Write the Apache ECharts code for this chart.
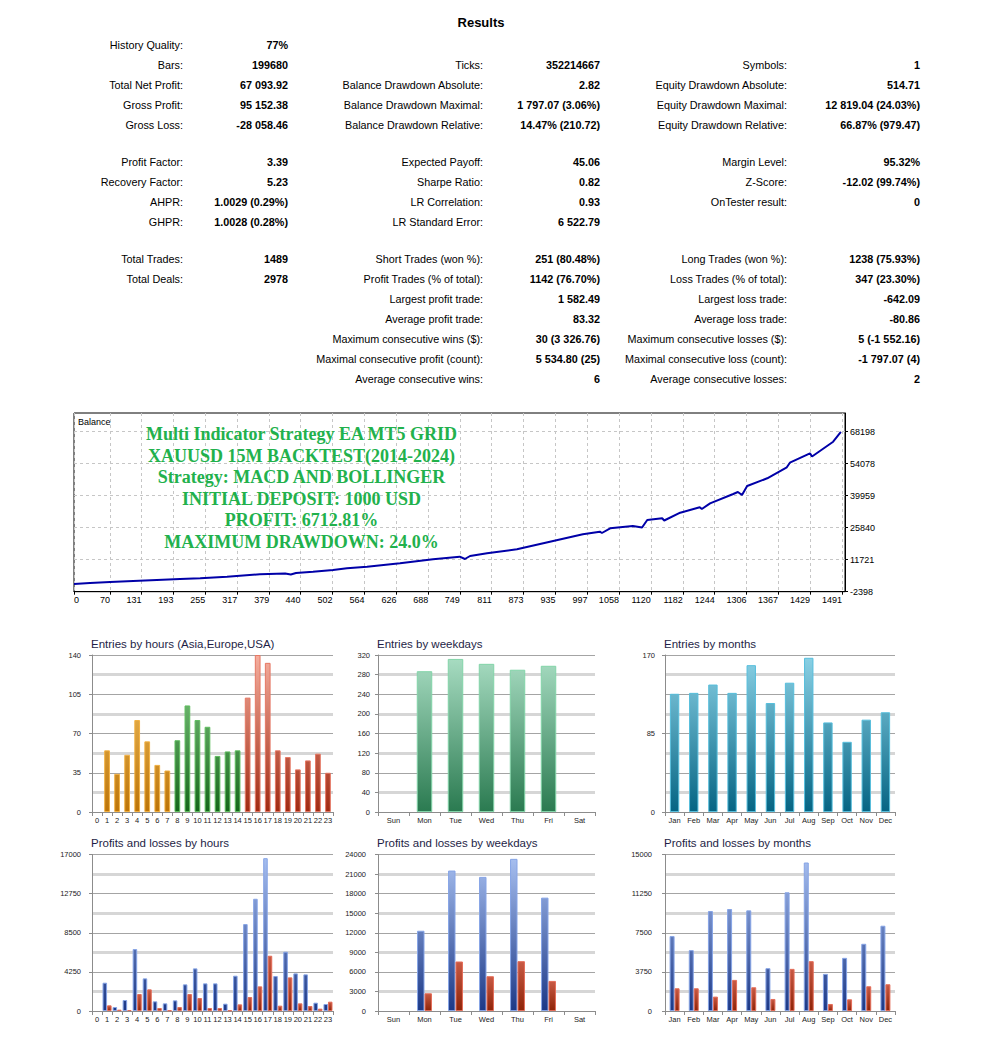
<!DOCTYPE html>
<html><head><meta charset="utf-8">
<script src="https://cdn.jsdelivr.net/npm/echarts@6/dist/echarts.min.js"></script>
<style>html,body{margin:0;padding:0;background:#fff}#c{width:991px;height:1049px}</style>
</head><body><div id="c"></div>
<script>
// ================= DATA =================
const reportTitle = 'Results';
// report table: one entry per row slot ('' = empty slot)
const col1Labels = ['History Quality:', 'Bars:', 'Total Net Profit:', 'Gross Profit:', 'Gross Loss:', 'Profit Factor:', 'Recovery Factor:', 'AHPR:', 'GHPR:', 'Total Trades:', 'Total Deals:', '', '', '', '', ''];
const col1Values = ['77%', '199680', '67 093.92', '95 152.38', '-28 058.46', '3.39', '5.23', '1.0029 (0.29%)', '1.0028 (0.28%)', '1489', '2978', '', '', '', '', ''];
const col2Labels = ['', 'Ticks:', 'Balance Drawdown Absolute:', 'Balance Drawdown Maximal:', 'Balance Drawdown Relative:', 'Expected Payoff:', 'Sharpe Ratio:', 'LR Correlation:', 'LR Standard Error:', 'Short Trades (won %):', 'Profit Trades (% of total):', 'Largest profit trade:', 'Average profit trade:', 'Maximum consecutive wins ($):', 'Maximal consecutive profit (count):', 'Average consecutive wins:'];
const col2Values = ['', '352214667', '2.82', '1 797.07 (3.06%)', '14.47% (210.72)', '45.06', '0.82', '0.93', '6 522.79', '251 (80.48%)', '1142 (76.70%)', '1 582.49', '83.32', '30 (3 326.76)', '5 534.80 (25)', '6'];
const col3Labels = ['', 'Symbols:', 'Equity Drawdown Absolute:', 'Equity Drawdown Maximal:', 'Equity Drawdown Relative:', 'Margin Level:', 'Z-Score:', 'OnTester result:', '', 'Long Trades (won %):', 'Loss Trades (% of total):', 'Largest loss trade:', 'Average loss trade:', 'Maximum consecutive losses ($):', 'Maximal consecutive loss (count):', 'Average consecutive losses:'];
const col3Values = ['', '1', '514.71', '12 819.04 (24.03%)', '66.87% (979.47)', '95.32%', '-12.02 (99.74%)', '0', '', '1238 (75.93%)', '347 (23.30%)', '-642.09', '-80.86', '5 (-1 552.16)', '-1 797.07 (4)', '2'];

// balance curve (trade number, balance)
const balanceTrade = [0, 31, 70, 115, 161, 206, 245, 297, 361, 410, 421, 431, 464, 503, 530, 569, 633, 697, 749, 759, 769, 802, 860, 924, 988, 1021, 1025, 1041, 1085, 1103, 1113, 1142, 1146, 1177, 1215, 1219, 1235, 1280, 1289, 1297, 1307, 1346, 1384, 1390, 1429, 1433, 1474, 1489];
const balanceValue = [1000, 1440, 1882, 2323, 2764, 3205, 3514, 4220, 5279, 5632, 5191, 5852, 6426, 7176, 7926, 8632, 10132, 11897, 13044, 12029, 13353, 14544, 16309, 19662, 22927, 24074, 23500, 25574, 26589, 25927, 29236, 29986, 29015, 32457, 34839, 34089, 36604, 40707, 41590, 40265, 44237, 47634, 52487, 54517, 58664, 57252, 63782, 68094];
const balanceXTicks = [0, 70, 131, 193, 255, 317, 379, 440, 502, 564, 626, 688, 749, 811, 873, 935, 997, 1058, 1120, 1182, 1244, 1306, 1367, 1429, 1491];
const balanceYTicks = [-2398, 11721, 25840, 39959, 54078, 68198];
const overlayLines = ['Multi Indicator Strategy EA MT5 GRID', 'XAUUSD 15M BACKTEST(2014-2024)', 'Strategy: MACD AND BOLLINGER', 'INITIAL DEPOSIT: 1000 USD', 'PROFIT: 6712.81%', 'MAXIMUM DRAWDOWN: 24.0%'];

// distribution charts
const hourCats = ['0','1','2','3','4','5','6','7','8','9','10','11','12','13','14','15','16','17','18','19','20','21','22','23'];
const hourSession = ['Asia','Asia','Asia','Asia','Asia','Asia','Asia','Asia','Europe','Europe','Europe','Europe','Europe','Europe','Europe','USA','USA','USA','USA','USA','USA','USA','USA','USA'];
const hourEntries = [0, 55, 34, 51, 82, 63, 42, 37, 64, 95, 82, 76, 50, 54, 55, 102, 140, 133, 55, 49, 38, 46, 52, 35];
const weekdayCats = ['Sun', 'Mon', 'Tue', 'Wed', 'Thu', 'Fri', 'Sat'];
const weekdayEntries = [0, 287, 312, 302, 290, 298, 0];
const monthCats = ['Jan', 'Feb', 'Mar', 'Apr', 'May', 'Jun', 'Jul', 'Aug', 'Sep', 'Oct', 'Nov', 'Dec'];
const monthEntries = [128, 129, 138, 129, 159, 118, 140, 167, 97, 76, 100, 108];
const hourProfits = [0, 3074, 434, 1194, 6728, 3545, 1049, 832, 1157, 2894, 4630, 3002, 3002, 796, 3834, 9441, 12190, 16602, 3798, 6438, 4087, 3979, 904, 760];
const hourLosses = [0, 615, 145, 108, 1845, 2351, 326, 72, 434, 1845, 1411, 326, 326, 72, 723, 1519, 2677, 6004, 579, 3653, 832, 543, 253, 1013];
const weekdayProfits = [0, 12308, 21538, 20564, 23333, 17385, 0];
const weekdayLosses = [0, 2718, 7590, 5333, 7641, 4615, 0];
const monthProfits = [7179, 5833, 9583, 9775, 9647, 4103, 11378, 14231, 3558, 5096, 6442, 8173];
const monthLosses = [2179, 2179, 1378, 2981, 2276, 1154, 4038, 4776, 673, 1122, 2372, 2564];
const chartTitles = ['Entries by hours (Asia,Europe,USA)', 'Entries by weekdays', 'Entries by months', 'Profits and losses by hours', 'Profits and losses by weekdays', 'Profits and losses by months'];
const axisMax = [140, 320, 170, 17000, 24000, 15000];
const labelStep = [35, 40, 85, 4250, 3000, 3750];

// ================= BUILD =================
const FONT = '"Liberation Sans", Arial, sans-serif';
const chart = echarts.init(document.getElementById('c'), null, {renderer: 'svg', width: 991, height: 1049});
const plain = v => String(v);

function vgrad(top, bottom, c0, c1) {
  return new echarts.graphic.LinearGradient(0, top, 0, bottom, [{offset: 0, color: c0}, {offset: 1, color: c1}], true);
}
function lgrad(c0, c1) {
  return new echarts.graphic.LinearGradient(0, 0, 0, 1, [{offset: 0, color: c0}, {offset: 1, color: c1}]);
}

const graphics = [];
graphics.push({type: 'text', x: 481, y: 22, style: {text: reportTitle, fontSize: 13, fontWeight: 'bold', fontFamily: FONT, fill: '#000', align: 'center', verticalAlign: 'middle'}});
const rowY = [45, 65, 85, 105, 125, 162, 182, 202, 222, 259, 279, 299, 319, 339, 359, 379];
const cols = [
  {labels: col1Labels, values: col1Values, lx: 183, vx: 288},
  {labels: col2Labels, values: col2Values, lx: 483, vx: 600},
  {labels: col3Labels, values: col3Values, lx: 787, vx: 920}
];
cols.forEach(c => {
  c.labels.forEach((lab, i) => {
    if (lab) graphics.push({type: 'text', x: c.lx, y: rowY[i], style: {text: lab, fontSize: 10.8, fontFamily: FONT, fill: '#000', align: 'right', verticalAlign: 'middle'}});
    if (c.values[i]) graphics.push({type: 'text', x: c.vx, y: rowY[i], style: {text: c.values[i], fontSize: 10.8, fontWeight: 'bold', fontFamily: FONT, fill: '#000', align: 'right', verticalAlign: 'middle'}});
  });
});
graphics.push({type: 'text', x: 78, y: 422, z: 10, style: {text: 'Balance', fontSize: 9, fontFamily: FONT, fill: '#000', align: 'left', verticalAlign: 'middle'}});
overlayLines.forEach((t, i) => {
  graphics.push({type: 'text', x: 301.5, y: 434 + 21.6 * i, z: 10, style: {text: t, fontSize: 18, fontWeight: 'bold', fontFamily: '"Liberation Serif", "Times New Roman", serif', fill: '#22B14C', align: 'center', verticalAlign: 'middle'}});
});

const grids = [{left: 74, top: 413, width: 771, height: 178.7, show: true, borderColor: '#000', borderWidth: 1}];
const xAxes = [{
  type: 'value', gridIndex: 0, min: 0, max: 1497,
  axisLine: {show: true, onZero: false, lineStyle: {color: '#000'}},
  axisTick: {show: true, length: 3, customValues: balanceXTicks, lineStyle: {color: '#000'}},
  axisLabel: {customValues: balanceXTicks, formatter: plain, fontSize: 9, fontFamily: FONT, color: '#000', align: 'right', margin: 4, alignMinLabel: 'left'},
  splitLine: {show: true, lineStyle: {color: '#c6c6c6', type: [3, 3]}}
}];
const yAxes = [{
  type: 'value', gridIndex: 0, position: 'right', min: -2398, max: 76450,
  axisLine: {show: true, onZero: false, lineStyle: {color: '#000'}},
  axisTick: {show: true, length: 3, customValues: balanceYTicks, lineStyle: {color: '#000'}},
  axisLabel: {customValues: balanceYTicks, formatter: plain, fontSize: 9, fontFamily: FONT, color: '#000', margin: 5},
  splitLine: {show: true, lineStyle: {color: '#c6c6c6', type: [3, 3]}}
}];
const series = [{
  type: 'line', xAxisIndex: 0, yAxisIndex: 0, symbol: 'none', showSymbol: false,
  data: balanceTrade.map((t, i) => [t, balanceValue[i]]),
  lineStyle: {color: '#0000a8', width: 2}, z: 5
}];

const boxes = [
  {left: 92, top: 655, width: 241, height: 157},
  {left: 378, top: 655, width: 217, height: 157},
  {left: 665, top: 655, width: 230, height: 157},
  {left: 92, top: 854.5, width: 241, height: 156.5},
  {left: 378, top: 854.5, width: 217, height: 156.5},
  {left: 665, top: 854.5, width: 230, height: 156.5}
];
const catsList = [hourCats, weekdayCats, monthCats, hourCats, weekdayCats, monthCats];
const labelMargin = [11, 8, 10, 11, 12, 13];

boxes.forEach((b, k) => {
  const gi = k + 1;
  grids.push(b);
  graphics.push({type: 'text', x: b.left - 1, y: b.top - 11.5, style: {text: chartTitles[k], fontSize: 11.5, fontFamily: FONT, fill: '#1e1e46', align: 'left', verticalAlign: 'middle'}});
  xAxes.push({
    type: 'category', gridIndex: gi, data: catsList[k], boundaryGap: true,
    axisLine: {show: true, lineStyle: {color: '#8c8c8c'}},
    axisTick: {show: true, length: 4, lineStyle: {color: '#8c8c8c'}},
    axisLabel: {fontSize: 7.5, fontFamily: FONT, color: '#222', margin: 4, interval: 0}
  });
  // grid-line axis
  yAxes.push({
    type: 'value', gridIndex: gi, position: 'left', min: 0, max: axisMax[k], interval: axisMax[k] / 4,
    axisLine: {show: true, lineStyle: {color: '#8c8c8c'}}, axisTick: {show: false}, axisLabel: {show: false},
    splitLine: {show: true, lineStyle: {color: '#a4a4a4', width: 1}},
    minorTick: {show: false, splitNumber: 2},
    minorSplitLine: {show: true, lineStyle: {color: '#d6d6d6', width: 3}}
  });
  // label axis
  yAxes.push({
    type: 'value', gridIndex: gi, position: 'left', min: 0, max: axisMax[k], interval: labelStep[k],
    axisLine: {show: false}, axisTick: {show: true, length: 3, lineStyle: {color: '#8c8c8c'}},
    splitLine: {show: false},
    axisLabel: {formatter: plain, fontSize: 7.5, fontFamily: FONT, color: '#222', margin: labelMargin[k]}
  });
});

function yIdx(k) { return 1 + 2 * k; }
function items(vals, style) {
  return vals.map((v, i) => {
    const s = typeof style === 'function' ? style(i) : style;
    return {value: v, itemStyle: Object.assign({}, s, {borderWidth: v > 0 ? 1 : 0})};
  });
}
const topRow = [655, 812], botRow = [854.5, 1011];
const sessionStyle = {
  Asia: {color: vgrad(topRow[0], topRow[1], '#F8CA6C', '#BC7408'), borderColor: '#F2B040'},
  Europe: {color: vgrad(topRow[0], topRow[1], '#90D490', '#15661A'), borderColor: '#5EBE5E'},
  USA: {color: vgrad(topRow[0], topRow[1], '#F5AE9E', '#A02A12'), borderColor: '#E67864'}
};
series.push({
  type: 'bar', xAxisIndex: 1, yAxisIndex: yIdx(0), barWidth: '57%',
  data: items(hourEntries, i => sessionStyle[hourSession[i]])
});
series.push({
  type: 'bar', xAxisIndex: 2, yAxisIndex: yIdx(1), barWidth: '50%',
  data: items(weekdayEntries, {color: vgrad(topRow[0], topRow[1], '#AADEC4', '#2A7A50'), borderColor: '#82D4A8'})
});
series.push({
  type: 'bar', xAxisIndex: 3, yAxisIndex: yIdx(2), barWidth: '49%',
  data: items(monthEntries, {color: vgrad(topRow[0], topRow[1], '#8CD2E6', '#056483'), borderColor: '#56BEDC'})
});
const blueStyle = {color: vgrad(botRow[0], botRow[1], '#AAC2F2', '#1C3886'), borderColor: '#86A4E6'};
const redStyle = {color: lgrad('#C85A44', '#8E2408'), borderColor: '#E46C58'};
[[hourProfits, hourLosses, '10%'], [weekdayProfits, weekdayLosses, '52%'], [monthProfits, monthLosses, '48%']].forEach((p, j) => {
  const k = 3 + j;
  series.push({type: 'bar', name: 'Profits', xAxisIndex: k + 1, yAxisIndex: yIdx(k), data: items(p[0], blueStyle), barGap: '0%', barCategoryGap: p[2]});
  series.push({type: 'bar', name: 'Losses', xAxisIndex: k + 1, yAxisIndex: yIdx(k), data: items(p[1], redStyle), barGap: '0%', barCategoryGap: p[2]});
});

chart.setOption({
  animation: false,
  backgroundColor: '#fff',
  textStyle: {fontFamily: FONT},
  grid: grids, xAxis: xAxes, yAxis: yAxes, series: series,
  graphic: {elements: graphics}
});
</script></body></html>
